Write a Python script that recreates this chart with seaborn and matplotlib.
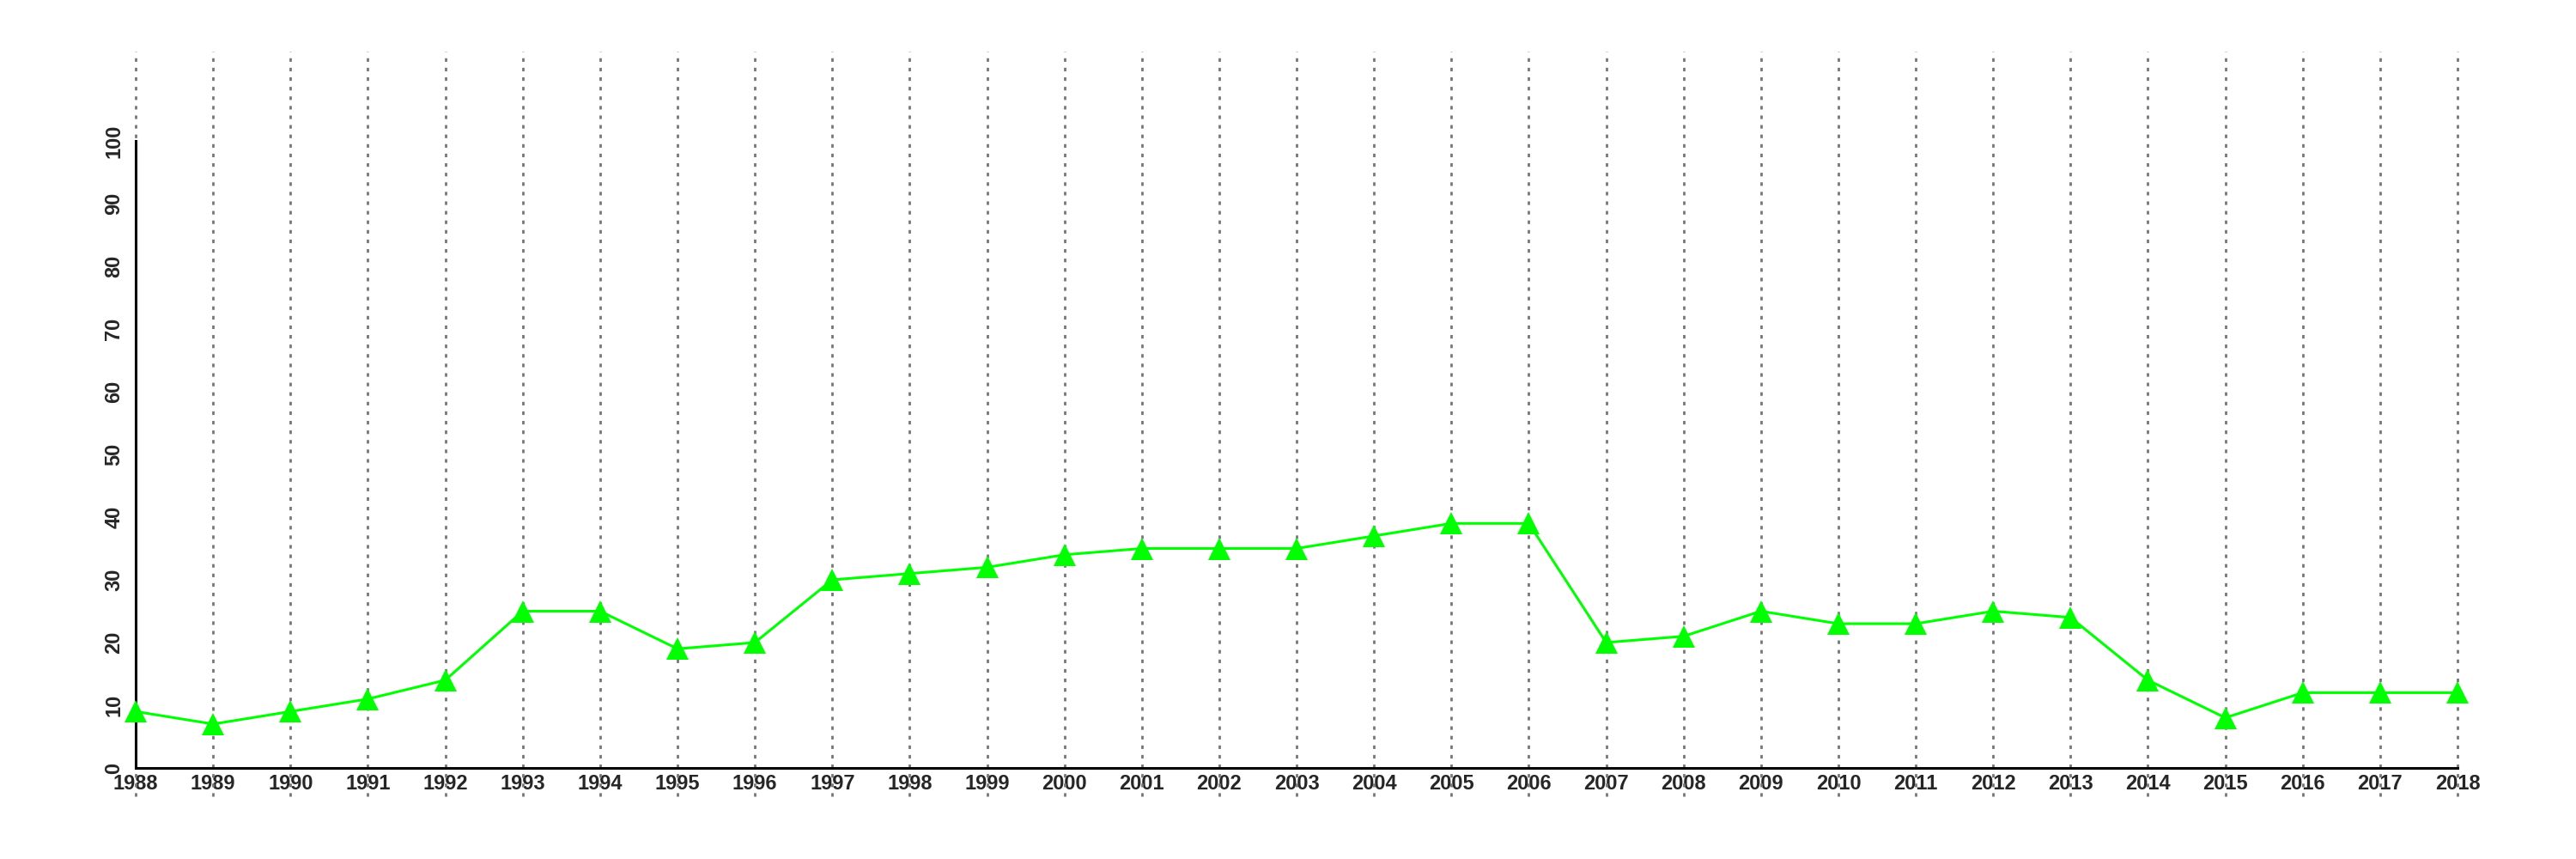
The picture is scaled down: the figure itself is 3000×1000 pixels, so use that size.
import pandas as pd
import seaborn as sns
import matplotlib.pyplot as plt
import numpy as np

years = list(range(1988, 2019))
values = [9, 7, 9, 11, 14, 25, 25, 19, 20, 30, 31, 32, 34, 35, 35, 35, 37, 39, 39,
          20, 21, 25, 23, 23, 25, 24, 14, 8, 12, 12, 12]
yticks = [0, 10, 20, 30, 40, 50, 60, 70, 80, 90, 100]

df = pd.DataFrame({'year': years, 'value': values})

sns.set_style("white")
plt.rcParams['font.family'] = ['Liberation Sans', 'DejaVu Sans']
plt.rcParams['font.weight'] = 'bold'

fig = plt.figure(figsize=(30, 10), dpi=100)
ax = fig.add_axes([0.0527, 0.106, 0.9013, 0.730])

# vertical dotted lines, reaching above and below the plot area
for y in years:
    ax.plot([y, y], [-4.5, 114.2], color='#777777', linestyle=(0, (1.5, 2.5)),
            linewidth=2, clip_on=False, zorder=1)

sns.lineplot(data=df, x='year', y='value', ax=ax, color='#00ff00', linewidth=2.2,
             marker='^', markersize=19, markeredgewidth=0, zorder=3)
for l in ax.lines:
    l.set_clip_on(False)

ax.set_xlim(1988, 2018)
ax.set_ylim(0, 100)
ax.set_xticks(years)
ax.set_xticklabels([str(y) for y in years], fontsize=17, fontweight='bold')
ax.set_yticks(yticks)
ax.set_yticklabels([str(v) for v in yticks], fontsize=17, fontweight='bold',
                   rotation=90, va='center')
ax.tick_params(axis='x', length=0, pad=5)
ax.tick_params(axis='y', length=6, width=2, direction='out', pad=4)
ax.set_xlabel('')
ax.set_ylabel('')

for s in ['top', 'right']:
    ax.spines[s].set_visible(False)
ax.spines['left'].set_linewidth(2.2)
ax.spines['bottom'].set_linewidth(2.2)
ax.spines['left'].set_color('black')
ax.spines['bottom'].set_color('black')

fig.savefig('out.png', dpi=100)
